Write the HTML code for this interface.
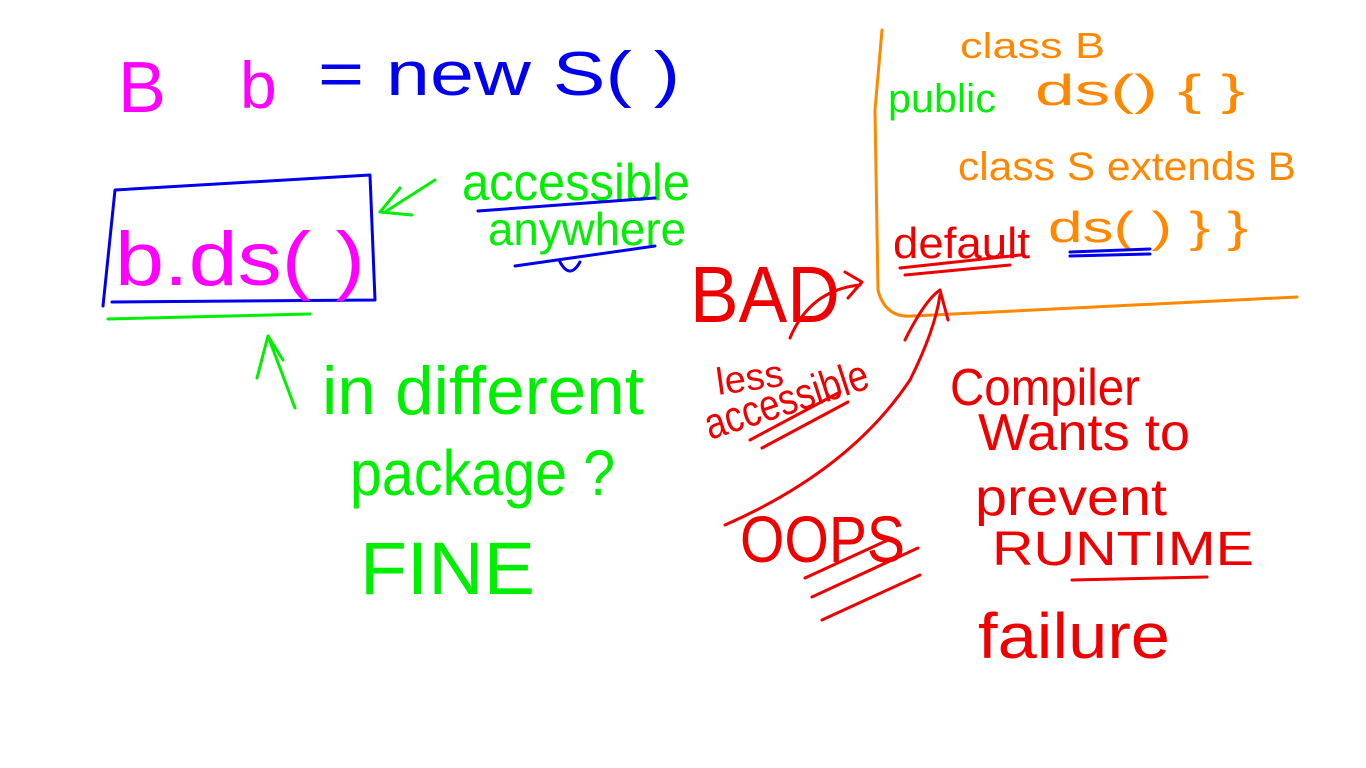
<!DOCTYPE html>
<html><head><meta charset="utf-8"><style>
html,body{margin:0;padding:0;background:#fff;}
svg{display:block}
text{font-family:"Liberation Sans",sans-serif;}
</style></head><body>
<svg width="1366" height="768" viewBox="0 0 1366 768" xmlns="http://www.w3.org/2000/svg" fill="none" stroke-linecap="round" stroke-linejoin="round">
<rect width="1366" height="768" fill="#fff" stroke="none"/>
<!-- top line -->
<text x="118" y="112" font-size="72" fill="#ff00ff" stroke="none">B</text>
<text x="240" y="108" font-size="66" fill="#ff00ff" stroke="none">b</text>
<text x="318" y="95" font-size="62" fill="#0000ee" stroke="none" textLength="362" lengthAdjust="spacingAndGlyphs">= new S( )</text>
<!-- blue box -->
<path d="M103,306 L115,190 L370,175 L375,300 L112,302" stroke="#0000ee" stroke-width="3"/>
<text x="115" y="285" font-size="76" fill="#ff00ff" stroke="none" textLength="250" lengthAdjust="spacingAndGlyphs">b.ds( )</text>
<path d="M108,319 L310,314" stroke="#00ee00" stroke-width="3"/>
<!-- green arrow left -->
<path d="M435,180 L385,212 M380,212 L400,188 M380,212 L412,215" stroke="#00ee00" stroke-width="3"/>
<text x="462" y="200" font-size="52" fill="#00ee00" stroke="none" textLength="228" lengthAdjust="spacingAndGlyphs">accessible</text>
<path d="M478,211 L655,198" stroke="#0000ee" stroke-width="3"/>
<text x="488" y="245" font-size="46" fill="#00ee00" stroke="none" textLength="198" lengthAdjust="spacingAndGlyphs">anywhere</text>
<path d="M515,266 L655,246 M560,262 Q570,280 580,262" stroke="#0000ee" stroke-width="3"/>
<!-- up arrow -->
<path d="M295,408 L268,336 M268,336 L257,378 M268,336 L283,360" stroke="#00ee00" stroke-width="3"/>
<text x="322" y="414" font-size="68" fill="#00ee00" stroke="none" textLength="322" lengthAdjust="spacingAndGlyphs">in different</text>
<text x="350" y="495" font-size="64" fill="#00ee00" stroke="none" textLength="265" lengthAdjust="spacingAndGlyphs">package ?</text>
<text x="360" y="594" font-size="74" fill="#00ee00" stroke="none" textLength="175" lengthAdjust="spacingAndGlyphs">FINE</text>
<!-- orange class box -->
<path d="M882,30 L875,110 L878,290 Q885,318 912,316 L1297,297" stroke="#ff8800" stroke-width="3"/>
<text x="960" y="58" font-size="36" fill="#ff8800" stroke="none" textLength="145" lengthAdjust="spacingAndGlyphs">class B</text>
<text x="888" y="112" font-size="40" fill="#00ee00" stroke="none" textLength="108" lengthAdjust="spacingAndGlyphs">public</text>
<text x="1035" y="105" font-size="44" fill="#ff8800" stroke="none" textLength="210" lengthAdjust="spacingAndGlyphs">ds() {     }</text>
<text x="958" y="180" font-size="40" fill="#ff8800" stroke="none" textLength="338" lengthAdjust="spacingAndGlyphs">class S extends B</text>
<text x="893" y="258" font-size="44" fill="#ee0000" stroke="none" textLength="137" lengthAdjust="spacingAndGlyphs">default</text>
<path d="M900,268 L1020,255 M905,275 L1010,265" stroke="#ee0000" stroke-width="3"/>
<text x="1048" y="242" font-size="44" fill="#ff8800" stroke="none" textLength="200" lengthAdjust="spacingAndGlyphs">ds( ) }    }</text>
<path d="M1070,252 L1150,249 M1070,256 L1150,254" stroke="#0000ee" stroke-width="3"/>
<!-- red BAD -->
<text x="690" y="322" font-size="80" fill="#ee0000" stroke="none" textLength="150" lengthAdjust="spacingAndGlyphs">BAD</text>
<path d="M790,338 Q810,290 860,285 M845,272 L862,282 L848,298" stroke="#ee0000" stroke-width="3"/>
<text x="718" y="395" font-size="38" fill="#ee0000" stroke="none" transform="rotate(-8 718 395)">less</text>
<text x="710" y="440" font-size="44" fill="#ee0000" stroke="none" transform="rotate(-18 710 440)" textLength="170" lengthAdjust="spacingAndGlyphs">accessible</text>
<path d="M750,440 L840,392 M762,448 L848,402" stroke="#ee0000" stroke-width="3"/>
<!-- big red arrow -->
<path d="M725,525 Q850,470 910,380 Q935,330 940,295 M905,340 Q925,300 940,290 L948,320" stroke="#ee0000" stroke-width="3"/>
<text x="740" y="562" font-size="66" fill="#ee0000" stroke="none" textLength="165" lengthAdjust="spacingAndGlyphs">OOPS</text>
<path d="M805,578 L888,540 M812,597 L918,548 M822,620 L920,575" stroke="#ee0000" stroke-width="3"/>
<!-- compiler text -->
<text x="950" y="405" font-size="52" fill="#ee0000" stroke="none" textLength="190" lengthAdjust="spacingAndGlyphs">Compiler</text>
<text x="978" y="450" font-size="52" fill="#ee0000" stroke="none" textLength="212" lengthAdjust="spacingAndGlyphs">Wants to</text>
<text x="975" y="515" font-size="52" fill="#ee0000" stroke="none" textLength="192" lengthAdjust="spacingAndGlyphs">prevent</text>
<text x="992" y="565" font-size="48" fill="#ee0000" stroke="none" textLength="262" lengthAdjust="spacingAndGlyphs">RUNTIME</text>
<path d="M1072,580 L1207,577" stroke="#ee0000" stroke-width="3"/>
<text x="978" y="658" font-size="64" fill="#ee0000" stroke="none" textLength="192" lengthAdjust="spacingAndGlyphs">failure</text>
</svg>
</body></html>
